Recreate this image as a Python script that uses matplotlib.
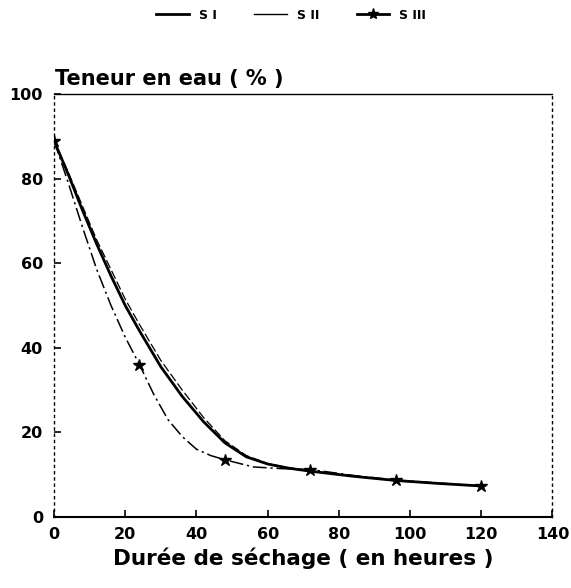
import matplotlib.pyplot as plt
from matplotlib.lines import Line2D

plt.rcParams['font.family'] = ['DejaVu Sans']

# drying curves, water content (%) vs drying time (h)
hours_s1 = [0, 4, 8, 12, 16, 20, 24, 30, 36, 42, 48, 54, 60, 66, 72, 84, 96, 108, 120]
water_s1 = [89, 81, 72.5, 64.5, 57, 50, 44, 35.5, 28.5, 22.5, 17.5, 14.2, 12.5, 11.5, 10.8, 9.6, 8.6, 7.9, 7.3]

hours_s2 = [0, 4, 8, 12, 16, 20, 24, 30, 36, 42, 48, 54, 60, 66, 72, 84, 96, 108, 120]
water_s2 = [89, 81.5, 73.5, 65.5, 58.5, 51.5, 45.5, 37, 30, 23.5, 18, 14.5, 12.6, 11.6, 10.9, 9.6, 8.6, 7.9, 7.3]

hours_s3 = [0, 4, 8, 12, 16, 20, 24, 28, 32, 36, 40, 44, 48, 56, 64, 72, 84, 96, 108, 120]
water_s3 = [89, 79, 68.5, 58.5, 50, 42.5, 36, 29, 23, 19, 16, 14.5, 13.5, 11.8, 11.4, 11.2, 9.8, 8.7, 8.0, 7.3]
s3_star_hours = [0, 24, 48, 72, 96, 120]

x_ticks = [0, 20, 40, 60, 80, 100, 120, 140]
y_ticks = [0, 20, 40, 60, 80, 100]

fig = plt.figure(figsize=(5.71, 5.88), dpi=100)
ax = fig.add_axes([0.0946, 0.121, 0.873, 0.719])

ax.plot(hours_s1, water_s1, color='black', lw=2.0)
ax.plot(hours_s2, water_s2, color='black', lw=0.9, dashes=(7, 2.5))
stars = [hours_s3.index(h) for h in s3_star_hours]
ax.plot(hours_s3, water_s3, color='black', lw=1.1, dashes=(9, 2.5, 1.5, 2.5),
        marker='*', markersize=9, markevery=stars)

ax.set_xlim(0, 140)
ax.set_ylim(0, 100)
ax.set_xticks(x_ticks)
ax.set_yticks(y_ticks)
ax.tick_params(direction='in', length=5, width=1.2, labelsize=11.5, pad=7)
ax.tick_params(axis='y', pad=8)
for lbl in ax.get_xticklabels() + ax.get_yticklabels():
    lbl.set_fontweight('bold')

ax.spines['bottom'].set_linewidth(1.5)
ax.spines['top'].set_linewidth(1.0)
for side in ('left', 'right'):
    ax.spines[side].set_linestyle((0, (1.5, 3)))
    ax.spines[side].set_linewidth(1.0)

ax.text(0.002, 1.012, 'Teneur en eau ( % )', transform=ax.transAxes,
        ha='left', va='bottom', fontsize=15, fontweight='bold')
ax.set_xlabel('Durée de séchage ( en heures )', fontsize=15.5, fontweight='bold', labelpad=4)

handles = [
    Line2D([], [], color='black', lw=2.0),
    Line2D([], [], color='black', lw=1.0),
    Line2D([], [], color='black', lw=2.0, marker='*', markersize=8),
]
fig.legend(handles, ['S I', 'S II', 'S III'], loc='center', bbox_to_anchor=(0.51, 0.974),
           ncol=3, frameon=False, handlelength=2.6, handletextpad=0.8,
           columnspacing=3.0, prop={'size': 9, 'weight': 'bold'})

fig.savefig('out.png', dpi=100)
